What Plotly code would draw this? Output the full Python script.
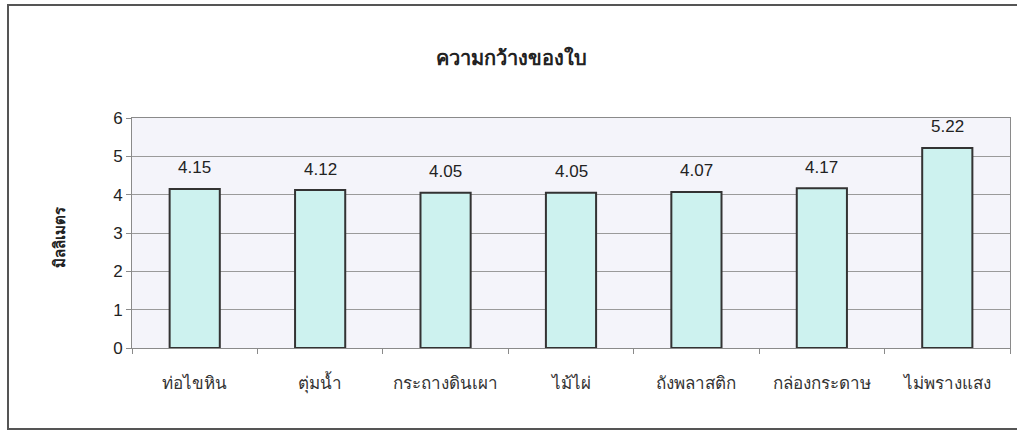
import plotly.graph_objects as go

categories = ["ท่อไขหิน", "ตุ่มน้ำ", "กระถางดินเผา", "ไม้ไผ่", "ถังพลาสติก", "กล่องกระดาษ", "ไม่พรางแสง"]
values = [4.15, 4.12, 4.05, 4.05, 4.07, 4.17, 5.22]
y_ticks = [0, 1, 2, 3, 4, 5, 6]
title_text = "ความกว้างของใบ"
y_title = "มิลลิเมตร"

W, H = 1017, 432
L, R, T, B = 132, 7, 118, 84
pw, ph = W - L - R, H - T - B

def px_x(x):
    return (x - L) / pw

def px_y(y):
    return (H - B - y) / ph

fig = go.Figure()
fig.add_trace(go.Bar(
    x=categories, y=values,
    marker=dict(color="#CDF2EF", line=dict(color="#333333", width=2)),
    hoverinfo="x+y",
))

annotations = []
for c, v in zip(categories, values):
    annotations.append(dict(
        x=c, y=v, xref="x", yref="y", text=f"{v:.2f}", showarrow=False,
        yshift=21, font=dict(family="Liberation Sans, Arial", size=17, color="#222222"),
    ))
annotations.append(dict(
    x=px_x(47), y=px_y(237), xref="paper", yref="paper", text=f"<b>{y_title}</b>",
    textangle=-90, showarrow=False, font=dict(family="Noto Sans, sans-serif", size=15, color="#222222"),
))
annotations.append(dict(
    x=px_x(511), y=px_y(42), xref="paper", yref="paper", text=f"<b>{title_text}</b>",
    showarrow=False, font=dict(family="Noto Sans, sans-serif", size=20, color="#222222"),
))

fig.update_layout(
    width=W, height=H,
    margin=dict(l=L, r=R, t=T, b=B, pad=0),
    paper_bgcolor="white",
    plot_bgcolor="#F4F4FA",
    bargap=0.6,
    showlegend=False,
    annotations=annotations,
    shapes=[dict(
        type="rect", xref="paper", yref="paper",
        x0=px_x(8), x1=px_x(1022), y0=px_y(429), y1=px_y(5),
        line=dict(color="#555555", width=2), fillcolor="rgba(0,0,0,0)", layer="below",
    )],
)
fig.update_xaxes(
    type="category", showgrid=False, showline=True, mirror=True, linecolor="#8a8a8a", linewidth=1,
    ticks="outside", tickson="boundaries", ticklen=5, tickcolor="#8a8a8a",
    ticklabelstandoff=20,
    tickfont=dict(family="Noto Sans, sans-serif", size=17, color="#333333"),
)
fig.update_yaxes(
    range=[0, 6], tickvals=y_ticks, showgrid=True, gridcolor="#9a9a9a", gridwidth=1,
    showline=True, mirror=True, linecolor="#8a8a8a", linewidth=1,
    ticks="outside", ticklen=5, tickcolor="#8a8a8a", zeroline=False,
    tickfont=dict(family="Liberation Sans, Arial", size=17, color="#222222"),
)

fig.write_html("out.html")
